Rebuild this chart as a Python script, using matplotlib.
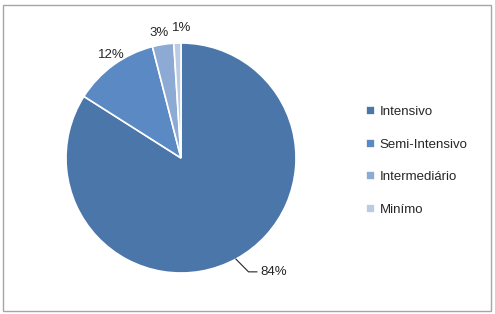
import matplotlib.pyplot as plt
from matplotlib.patches import Rectangle
import numpy as np

categorias = ["Intensivo", "Semi-Intensivo", "Intermediário", "Minímo"]
valores = [84, 12, 3, 1]
cores = ["#4A76A9", "#5A89C3", "#8DAAD4", "#BCCBE3"]

W, H = 495, 314
fig = plt.figure(figsize=(W / 100, H / 100), dpi=100)
plt.rcParams["font.family"] = ["Liberation Sans", "DejaVu Sans"]

# moldura
fig.patches.append(Rectangle((3 / W, (H - 311) / H), 488 / W, 306 / H, transform=fig.transFigure,
                             fill=False, edgecolor="#A6A6A6", linewidth=1.0))

# centro (181,158) raio 115 px
ax = fig.add_axes([66 / W, (H - 273) / H, 230 / W, 230 / H])
wedges, texts, autotexts = ax.pie(valores, colors=cores, startangle=90, counterclock=False,
                                  autopct="%d%%", pctdistance=1.12,
                                  wedgeprops=dict(edgecolor="white", linewidth=1.2),
                                  textprops=dict(fontsize=9.5, color="#262626"))
ax.set_xlim(-1, 1)
ax.set_ylim(-1, 1)
ax.set_aspect("equal")

# rótulos fora da fatia (ângulo, distância)
pos = {1: (124, 1.08), 2: (100, 1.10), 3: (89.5, 1.13)}
for i, (a, r) in pos.items():
    autotexts[i].set_position((r * np.cos(np.deg2rad(a)), r * np.sin(np.deg2rad(a))))

# 84% com linha guia
ang = np.deg2rad(-61.5)
x0, y0 = np.cos(ang), np.sin(ang)
autotexts[0].set_position((0.69, -0.99))
autotexts[0].set_ha("left")
ax.plot([x0, x0 + 0.11, 0.66], [y0, -0.99, -0.99], color="#262626", lw=0.8, clip_on=False)

leg = fig.legend(wedges, categorias, loc="center left", bbox_to_anchor=(354 / W, (H - 161) / H),
                 frameon=False, fontsize=9.5, handlelength=0.7, handleheight=0.7,
                 handletextpad=0.35, labelspacing=1.55)
for t in leg.get_texts():
    t.set_color("#262626")

fig.savefig("out.png", dpi=100)
